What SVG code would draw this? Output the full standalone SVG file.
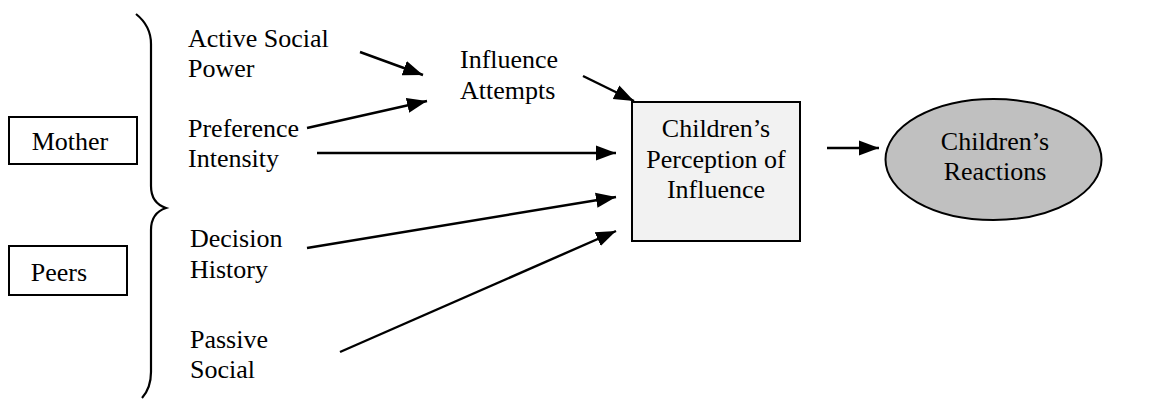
<svg xmlns="http://www.w3.org/2000/svg" width="1163" height="399" viewBox="0 0 1163 399" font-family="Liberation Serif, Times New Roman, serif" font-size="26">
  <style>
    .mid { text-anchor: middle; }
    .box { fill: #fff; stroke: #000; stroke-width: 2; }
    .link { fill: none; stroke: #000; stroke-width: 2.4; marker-end: url(#head); }
    .brace { fill: none; stroke: #000; stroke-width: 2.2; }
  </style>
  <defs>
    <marker id="head" markerUnits="userSpaceOnUse" markerWidth="22" markerHeight="18" viewBox="0 0 22 18" refX="20" refY="9" orient="auto">
      <path d="M0,1.5 L20,9 L0,16.5 Z" fill="#000"/>
    </marker>
  </defs>

  <rect width="1163" height="399" fill="#fff"/>

  <!-- source groups -->
  <g id="mother">
    <rect class="box" x="9" y="117" width="128" height="47"/>
    <text x="70" y="150" class="mid">Mother</text>
  </g>
  <g id="peers">
    <rect class="box" x="9" y="246" width="118" height="49"/>
    <text x="59" y="281" class="mid">Peers</text>
  </g>

  <!-- brace grouping the factors -->
  <g id="brace">
    <path class="brace" d="M136,14 Q151,26 151,44 L151,186 Q151,203 166,208 Q151,213 151,230 L151,372 Q151,388 142,398"/>
  </g>

  <!-- factors -->
  <g id="active-social-power">
    <text x="188" y="47">Active Social</text>
    <text x="188" y="77">Power</text>
  </g>
  <g id="preference-intensity">
    <text x="188" y="137">Preference</text>
    <text x="188" y="167">Intensity</text>
  </g>
  <g id="decision-history">
    <text x="190" y="247">Decision</text>
    <text x="190" y="278">History</text>
  </g>
  <g id="passive-social">
    <text x="190" y="348">Passive</text>
    <text x="190" y="378">Social</text>
  </g>
  <g id="influence-attempts">
    <text x="460" y="68">Influence</text>
    <text x="460" y="99">Attempts</text>
  </g>

  <!-- outcome nodes -->
  <g id="perception">
    <rect x="632" y="102" width="168" height="139" fill="#f2f2f2" stroke="#000" stroke-width="2"/>
    <text x="716" y="137" class="mid">Children’s</text>
    <text x="716" y="168" class="mid">Perception of</text>
    <text x="716" y="198" class="mid">Influence</text>
  </g>
  <g id="reactions">
    <ellipse cx="993.5" cy="159.5" rx="108" ry="60.5" fill="#c0c0c0" stroke="#000" stroke-width="2"/>
    <text x="995" y="150" class="mid">Children’s</text>
    <text x="995" y="180" class="mid">Reactions</text>
  </g>

  <!-- connectors -->
  <g id="connectors">
    <line class="link" x1="360" y1="52" x2="423" y2="75"/>
    <line class="link" x1="307" y1="128" x2="427" y2="101"/>
    <line class="link" x1="317" y1="153" x2="616" y2="153"/>
    <line class="link" x1="583" y1="76" x2="634" y2="101"/>
    <line class="link" x1="307" y1="248" x2="616" y2="197"/>
    <line class="link" x1="340" y1="352" x2="616" y2="231"/>
    <line class="link" x1="827" y1="148" x2="879" y2="148"/>
  </g>
</svg>
